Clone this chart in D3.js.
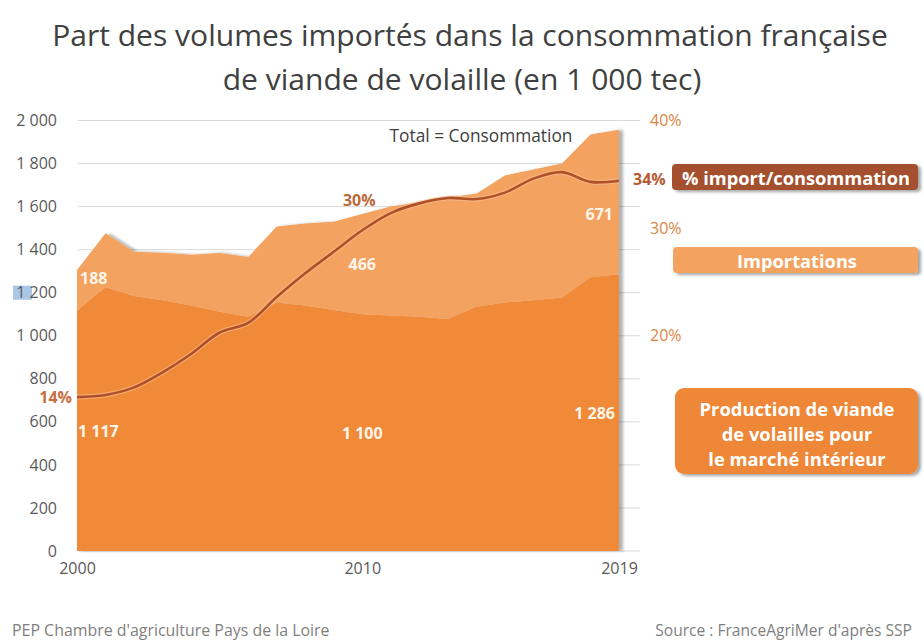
<!DOCTYPE html>
<html>
<head>
<meta charset="utf-8">
<script src="https://cdn.jsdelivr.net/npm/d3@7"></script>
<style>
  html, body { margin: 0; padding: 0; background: #fff; }
  svg { display: block; font-family: "Open Sans", "Noto Sans", sans-serif; }
</style>
</head>
<body>
<svg id="chart" width="924" height="644"></svg>
<script>
// ---------- DATA ----------
const years = [2000,2001,2002,2003,2004,2005,2006,2007,2008,2009,2010,2011,2012,2013,2014,2015,2016,2017,2018,2019];
const production = [1117,1225,1185,1165,1140,1112,1088,1155,1140,1120,1100,1094,1088,1078,1135,1155,1165,1178,1272,1286];
const importations = [188,251,205,221,236,273,278,353,382,410,466,506,532,564,525,590,607,622,663,671];
const pctImport = [0.143,0.145,0.152,0.166,0.183,0.203,0.212,0.236,0.258,0.278,0.298,0.314,0.323,0.328,0.327,0.333,0.346,0.352,0.343,0.344];
const leftTicks = [0,200,400,600,800,1000,1200,1400,1600,1800,2000];
const leftTickLabels = ["0","200","400","600","800","1 000","1 200","1 400","1 600","1 800","2 000"];
const rightTicks = [0.2,0.3,0.4];
const rightTickLabels = ["20%","30%","40%"];
const xTicks = [2000,2010,2019];
const titleLines = ["Part des volumes importés dans la consommation française","de viande de volaille (en 1 000 tec)"];
const seriesKeys = ["production","importations"];

// ---------- SETUP ----------
const svg = d3.select("#chart");
const x = d3.scaleLinear().domain([2000, 2019]).range([77, 619]);
const y = d3.scaleLinear().domain([0, 2000]).range([551, 120.5]);
const yR = d3.scaleLinear().domain([0, 0.4]).range([551, 120.5]);

const COL_PROD = "#F08A37";
const COL_IMP = "#F3A25E";
const COL_LINE = "#B0502A";
const COL_BOX1 = "#A44F2D";

const defs = svg.append("defs");
const sh = defs.append("filter").attr("id","shadow").attr("x","-10%").attr("y","-10%").attr("width","130%").attr("height","140%");
sh.append("feDropShadow").attr("dx",3).attr("dy",2).attr("stdDeviation",1.8).attr("flood-color","#000").attr("flood-opacity",0.35);
const shA = defs.append("filter").attr("id","shadowArea").attr("x","-5%").attr("y","-5%").attr("width","110%").attr("height","110%");
shA.append("feDropShadow").attr("dx",4).attr("dy",0).attr("stdDeviation",1.5).attr("flood-color","#000").attr("flood-opacity",0.3);

function fit(sel, target) {
  const n = sel.node();
  const w = n.getComputedTextLength();
  const fs = parseFloat(sel.attr("font-size"));
  sel.attr("font-size", fs * target / w);
  return fs * target / w;
}

// ---------- TITLE ----------
const t1 = svg.append("text").attr("x", 470).attr("y", 46).attr("text-anchor","middle")
  .attr("font-size", 30).attr("fill","#404040").text(titleLines[0]);
const tfs = fit(t1, 836);
svg.append("text").attr("x", 462).attr("y", 90).attr("text-anchor","middle")
  .attr("font-size", tfs).attr("fill","#404040").text(titleLines[1]);

// ---------- GRIDLINES ----------
svg.append("g").selectAll("line").data(leftTicks).join("line")
  .attr("x1", 78).attr("x2", 640)
  .attr("y1", d => y(d)).attr("y2", d => y(d))
  .attr("stroke", "#D9D9D9").attr("stroke-width", 1);

// ---------- AREAS ----------
const table = years.map((yr, i) => ({year: yr, production: production[i], importations: importations[i]}));
const stacked = d3.stack().keys(seriesKeys)(table);
const area = d3.area().x(d => x(d.data.year)).y0(d => y(d[0])).y1(d => y(d[1]));
const areaG = svg.append("g").attr("filter","url(#shadowArea)");
areaG.selectAll("path").data(stacked).join("path")
  .attr("d", area)
  .attr("fill", (d, i) => i === 0 ? COL_PROD : COL_IMP);

// ---------- LINE ----------
const line = d3.line().x((d, i) => x(years[i])).y(d => yR(d)).curve(d3.curveCatmullRom.alpha(0.5));
svg.append("path").datum(pctImport).attr("d", line)
  .attr("fill","none").attr("stroke","#F7C08F").attr("stroke-width",5).attr("stroke-opacity",0.6);
svg.append("path").datum(pctImport).attr("d", line)
  .attr("fill","none").attr("stroke",COL_LINE).attr("stroke-width",2.6);

// ---------- AXES ----------
// highlight artefact behind "1 2"
svg.append("rect").attr("x", 13).attr("y", y(1200) - 7).attr("width", 19).attr("height", 14).attr("fill","#A9C8E8");

const axL = svg.append("g").attr("transform","translate(57,0)")
  .call(d3.axisLeft(y).tickValues(leftTicks).tickSize(0).tickPadding(0)
    .tickFormat((d, i) => leftTickLabels[i]));
axL.select(".domain").remove();
axL.selectAll("text").attr("font-size", 16).attr("fill","#595959").attr("font-family","Open Sans");

const axR = svg.append("g").attr("transform","translate(650,0)")
  .call(d3.axisRight(yR).tickValues(rightTicks).tickSize(0).tickPadding(0)
    .tickFormat((d, i) => rightTickLabels[i]));
axR.select(".domain").remove();
axR.selectAll("text").attr("font-size", 16).attr("fill","#DC8445").attr("font-family","Open Sans");

const axB = svg.append("g").attr("transform","translate(0,561)")
  .call(d3.axisBottom(x).tickValues(xTicks).tickSize(0).tickPadding(2).tickFormat(d => String(d)));
axB.select(".domain").remove();
axB.selectAll("text").attr("font-size", 16).attr("fill","#595959").attr("font-family","Open Sans");

// ---------- DATA LABELS ----------
const last = years.length - 1;
const i2010 = years.indexOf(2010);
const dl = svg.append("g").attr("font-weight","bold").attr("fill","#FFF6EA").attr("font-size",16).attr("dominant-baseline","central");
dl.append("text").attr("x", x(2000) + 3).attr("y", y(production[0] + importations[0] * 0.8)).text(String(importations[0]));
dl.append("text").attr("x", x(2010)).attr("text-anchor","middle").attr("y", y(production[i2010] + importations[i2010] / 2)).text(String(importations[i2010]));
dl.append("text").attr("x", x(2019) - 6).attr("text-anchor","end").attr("y", y(production[last] + importations[last] * 0.42)).text(String(importations[last]));
const fmt = v => d3.format(",")(v).replace(",", " ");
dl.append("text").attr("x", x(2000) + 1).attr("y", y(production[0] / 2)).text(fmt(production[0]));
dl.append("text").attr("x", x(2010)).attr("text-anchor","middle").attr("y", y(production[i2010] / 2)).text(fmt(production[i2010]));
dl.append("text").attr("x", x(2019) - 4).attr("text-anchor","end").attr("y", y(production[last] / 2)).text(fmt(production[last]));

// percentage labels
const pl = svg.append("g").attr("font-weight","bold").attr("font-size",16).attr("dominant-baseline","central");
pl.append("text").attr("x", x(2000) - 5).attr("text-anchor","end").attr("y", yR(pctImport[0])).attr("fill","#C86E3E")
  .text(Math.round(pctImport[0]*100) + "%");
pl.append("text").attr("x", x(2010) - 3).attr("text-anchor","middle").attr("y", yR(pctImport[i2010]) - 30).attr("fill","#BC6A3C")
  .text(Math.round(pctImport[i2010]*100) + "%");
pl.append("text").attr("x", x(2019) + 14).attr("text-anchor","start").attr("y", yR(pctImport[last]) - 2).attr("fill","#B85A30")
  .text(Math.round(pctImport[last]*100) + "%");

// Total label
const tot = svg.append("text").attr("x", 481).attr("y", 135).attr("text-anchor","middle").attr("dominant-baseline","central")
  .attr("font-size", 16).attr("fill","#404040").text("Total = Consommation");
fit(tot, 183);

// ---------- LEGEND BOXES ----------
const lg = svg.append("g");
lg.append("rect").attr("x", 672).attr("y", 164).attr("width", 246).attr("height", 26).attr("rx", 4)
  .attr("fill", COL_BOX1).attr("filter","url(#shadow)");
const l1 = lg.append("text").attr("x", 796).attr("y", 177.5).attr("text-anchor","middle").attr("dominant-baseline","central")
  .attr("font-weight","bold").attr("font-size",16).attr("fill","#fff").text("% import/consommation");
fit(l1, 228);

lg.append("rect").attr("x", 673).attr("y", 247).attr("width", 245).attr("height", 26).attr("rx", 4)
  .attr("fill", COL_IMP).attr("filter","url(#shadow)");
const l2 = lg.append("text").attr("x", 797).attr("y", 260).attr("text-anchor","middle").attr("dominant-baseline","central")
  .attr("font-weight","bold").attr("font-size",15).attr("fill","#fff").text("Importations");
fit(l2, 120);

lg.append("rect").attr("x", 675).attr("y", 388).attr("width", 243).attr("height", 86).attr("rx", 9)
  .attr("fill", "#EE8737").attr("filter","url(#shadow)");
const prodLines = ["Production de viande","de volailles pour","le marché intérieur"];
const pt = lg.append("text").attr("x", 797).attr("y", 408).attr("text-anchor","middle").attr("dominant-baseline","central")
  .attr("font-weight","bold").attr("font-size",15).attr("fill","#fff").text(prodLines[0]);
const pfs = fit(pt, 195);
prodLines.slice(1).forEach((s, i) => {
  lg.append("text").attr("x", 797).attr("y", 433 + i * 25).attr("text-anchor","middle").attr("dominant-baseline","central")
    .attr("font-weight","bold").attr("font-size", pfs).attr("fill","#fff").text(s);
});

// ---------- FOOTER ----------
const f1 = svg.append("text").attr("x", 12).attr("y", 636).attr("font-size", 13).attr("fill","#7F7F7F")
  .text("PEP Chambre d'agriculture Pays de la Loire");
fit(f1, 318);
const f2 = svg.append("text").attr("x", 912).attr("y", 636).attr("text-anchor","end").attr("font-size", 13).attr("fill","#7F7F7F")
  .text("Source  : FranceAgriMer d'après SSP");
fit(f2, 257);
</script>
</body>
</html>
